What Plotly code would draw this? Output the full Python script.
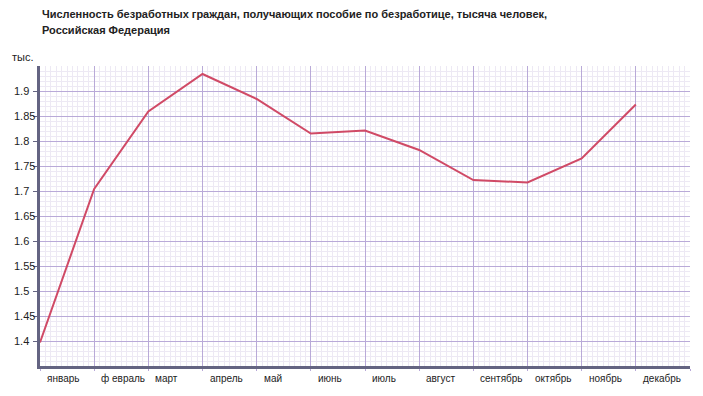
import plotly.graph_objects as go

months = ["январь", "ф евраль", "март", "апрель", "май", "июнь", "июль",
          "август", "сентябрь", "октябрь", "ноябрь", "декабрь"]
values = [1.397, 1.704, 1.859, 1.934, 1.884, 1.815, 1.821,
          1.782, 1.722, 1.717, 1.765, 1.873]
y_ticks = [1.4, 1.45, 1.5, 1.55, 1.6, 1.65, 1.7, 1.75, 1.8, 1.85, 1.9]
y_tick_labels = ["1.4", "1.45", "1.5", "1.55", "1.6", "1.65", "1.7",
                 "1.75", "1.8", "1.85", "1.9"]
title_lines = ["Численность безработных граждан, получающих пособие по безработице, тысяча человек,",
               "Российская Федерация"]
unit_label = "тыс."

x_idx = list(range(len(months)))

# page body has an 8px default margin, so the figure is offset by 8px
OFF = 8
W, H = 703 - OFF, 396 - OFF
ML, MR, MT, MB = 40 - OFF, 13, 66 - OFF, 30
plot_w = W - ML - MR

fig = go.Figure()
fig.add_trace(go.Scatter(
    x=x_idx, y=values, mode="lines",
    line=dict(color="#d04a66", width=2),
    hoverinfo="skip", showlegend=False,
))

annotations = []
for i, m in enumerate(months):
    annotations.append(dict(
        x=i, xref="x", y=0, yref="paper", text=m, showarrow=False,
        xanchor="left", yanchor="middle", xshift=5, yshift=-12,
        font=dict(family="Liberation Sans, Arial", size=10, color="#222222"),
    ))
for v, t in zip(y_ticks, y_tick_labels):
    annotations.append(dict(
        x=(12 - 40) / plot_w, xref="paper", y=v, yref="y", text=t,
        showarrow=False, xanchor="left", yanchor="middle",
        font=dict(family="Liberation Sans, Arial", size=11, color="#222222"),
    ))
annotations.append(dict(
    x=(10 - 40) / plot_w, xref="paper", y=1, yref="paper", yshift=1,
    text=unit_label, showarrow=False, xanchor="left", yanchor="bottom",
    font=dict(family="Liberation Sans, Arial", size=11, color="#222222"),
))
# title lines: centres at page y = 14 and 30
for line, cy in zip(title_lines, [14, 30]):
    annotations.append(dict(
        x=0, xref="paper", y=1, yref="paper", yshift=66 - cy,
        text="<b>" + line + "</b>", showarrow=False,
        xanchor="left", yanchor="middle", align="left",
        font=dict(family="Liberation Sans, Arial", size=11, color="#222222"),
    ))

fig.update_layout(
    width=W, height=H,
    margin=dict(l=ML, r=MR, t=MT, b=MB),
    paper_bgcolor="white", plot_bgcolor="white",
    annotations=annotations,
    xaxis=dict(
        range=[0, 12], tickmode="linear", tick0=0, dtick=1,
        showticklabels=False, ticks="outside", ticklen=2, tickcolor="#b8a8d8",
        showgrid=True, gridcolor="#b9aad8", gridwidth=1,
        minor=dict(dtick=0.1, tick0=0, showgrid=True, gridcolor="#ede9f4", gridwidth=1),
        showline=True, linecolor="#646482", linewidth=3,
        zeroline=False, fixedrange=True,
    ),
    yaxis=dict(
        range=[1.35, 1.95], tickmode="array", tickvals=y_ticks,
        showticklabels=False, ticks="outside", ticklen=4, tickcolor="#646482",
        showgrid=True, gridcolor="#b9aad8", gridwidth=1,
        minor=dict(dtick=0.01, tick0=1.35, showgrid=True, gridcolor="#ede9f4", gridwidth=1),
        showline=True, linecolor="#646482", linewidth=3,
        zeroline=False, fixedrange=True,
    ),
)

fig.write_html("out.html", config={"displayModeBar": False})
